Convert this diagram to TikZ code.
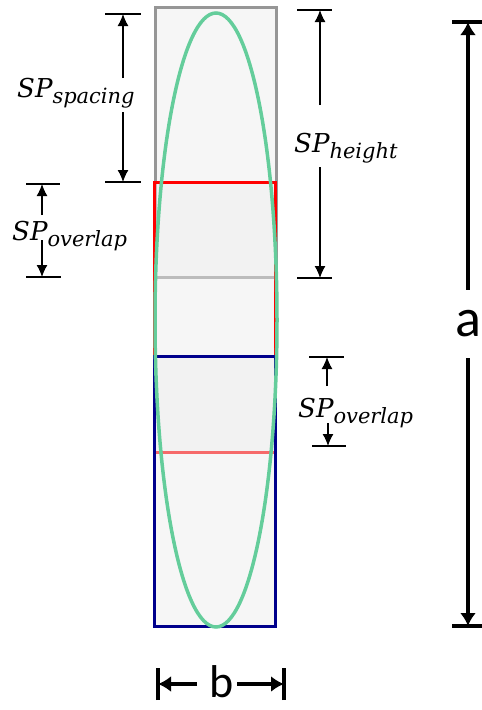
\documentclass[tikz,border=0pt]{standalone}
\usepackage{fontspec}
\usepackage{xcolor}
\usepackage{tikz}
\usetikzlibrary{shapes.geometric, arrows.meta, positioning, calc}
\newfontfamily\lblfont{DejaVu Serif}
\newfontfamily\dimfont{Carlito}
\definecolor{mygray}{RGB}{150,150,150}
\definecolor{myred}{RGB}{255,0,0}
\definecolor{myblue}{RGB}{0,0,140}
\definecolor{mygreen}{RGB}{100,205,155}
\definecolor{myfill}{RGB}{236,236,236}
\newcommand{\splbl}[1]{{\fontsize{26}{30}\selectfont SP}\raisebox{-6pt}{\fontsize{21}{24}\selectfont #1}}
\tikzset{
  spbox/.style={rectangle, fill=myfill, fill opacity=0.45, line width=3pt,
    minimum width=121pt, minimum height=270pt, inner sep=0pt},
  tube/.style={ellipse, draw=mygreen, line width=3.5pt,
    minimum width=122pt, minimum height=614pt, inner sep=0pt},
  splabel/.style={font=\lblfont\itshape, inner sep=0pt, anchor=base west},
  dimarrow/.style={-{Latex[length=12pt, width=11pt]}, line width=1.3pt},
  tick/.style={line width=1.3pt},
  bigarrow/.style={-{Latex[length=13pt, width=16pt]}, line width=4.5pt},
  bigtick/.style={line width=4.5pt}
}
\begin{document}
\begin{tikzpicture}[x=1pt, y=-1pt]
  \useasboundingbox (0,0) rectangle (482,710);

  % Boxes
  \node[spbox, draw=mygray] (gbox) at (216,142.5) {};
  \node[spbox, draw=myred] (rbox) at (215,317) {};
  \node[spbox, draw=myblue] (bbox) at (215,491.5) {};
  \node[tube] (ell) at (216,320) {};

  % Labels
  \node[splabel] (spacing) at (17,97) {\splbl{spacing}};
  \node[splabel] (ovlleft) at (12,240) {\splbl{overlap}};
  \node[splabel] (height) at (294,152) {\splbl{height}};
  \node[splabel] (ovlright) at (298,417) {\splbl{overlap}};

  % Tick points
  \coordinate (sptop) at (123,14);
  \coordinate (spbot) at (123,182);
  \coordinate (oltop) at (42,184);
  \coordinate (olbot) at (42,277);
  \coordinate (httop) at (320,10);
  \coordinate (htbot) at (320,278);
  \coordinate (ortop) at (327,357);
  \coordinate (orbot) at (328,446);

  % Spacing
  \draw[tick] ([xshift=-18pt]sptop) -- ([xshift=18pt]sptop);
  \draw[tick] ([xshift=-18pt]spbot) -- ([xshift=18pt]spbot);
  \draw[dimarrow] (123,78) -- (sptop);
  \draw[dimarrow] (123,112) -- (spbot);

  % Overlap, left
  \draw[tick] ([xshift=-16pt]oltop) -- ([xshift=18pt]oltop);
  \draw[tick] ([xshift=-16pt]olbot) -- ([xshift=19pt]olbot);
  \draw[dimarrow] (oltop |- 0,215) -- (oltop);
  \draw[dimarrow] (olbot |- ovlleft.base) -- (olbot);

  % Height
  \draw[tick] ([xshift=-23pt]httop) -- ([xshift=12pt]httop);
  \draw[tick] ([xshift=-23pt]htbot) -- ([xshift=12pt]htbot);
  \draw[dimarrow] (httop |- 0,105) -- (httop);
  \draw[dimarrow] (htbot |- 0,167) -- (htbot);

  % Overlap, right
  \draw[tick] ([xshift=-18pt]ortop) -- ([xshift=17pt]ortop);
  \draw[tick] ([xshift=-16pt]orbot) -- ([xshift=18pt]orbot);
  \draw[dimarrow] (ortop |- 0,386) -- (ortop);
  \draw[dimarrow] (orbot |- 0,423) -- (orbot);

  % Dimension a
  \node[font=\dimfont\fontsize{54}{60}\selectfont, minimum height=68pt, inner sep=0pt] (alabel) at (468,324) {a};
  \coordinate (atop) at (468,22);
  \coordinate (abot) at (468,626);
  \draw[bigtick] ([xshift=-16pt]atop) -- ([xshift=17pt]atop);
  \draw[bigtick] ([xshift=-16pt]abot) -- ([xshift=17pt]abot);
  \draw[bigarrow] (alabel.north) -- (atop);
  \draw[bigarrow] (alabel.south) -- (abot);

  % Dimension b
  \node[font=\dimfont\fontsize{46}{50}\selectfont, inner sep=0pt] (blabel) at (222,682) {b};
  \coordinate (bleft) at (158,684);
  \coordinate (bright) at (284,684);
  \draw[bigtick] ([yshift=-16pt]bleft) -- ([yshift=16pt]bleft);
  \draw[bigtick] ([yshift=-16pt]bright) -- ([yshift=16pt]bright);
  \draw[bigarrow] (bleft -| 197,0) -- (bleft);
  \draw[bigarrow] (bright -| 237,0) -- (bright);
\end{tikzpicture}
\end{document}
